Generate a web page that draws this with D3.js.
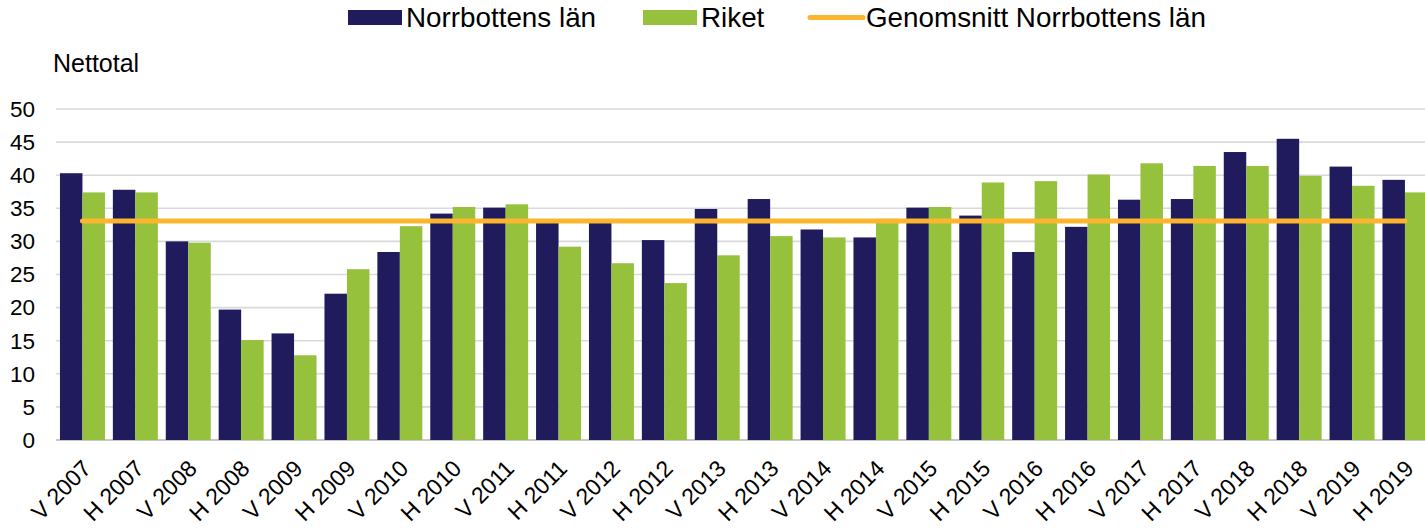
<!DOCTYPE html>
<html>
<head>
<meta charset="utf-8">
<script src="https://cdn.jsdelivr.net/npm/d3@7/dist/d3.min.js"></script>
<style>
  html, body { margin: 0; padding: 0; background: #fff; }
  svg { display: block; font-family: "Liberation Sans", Arial, sans-serif; }
</style>
</head>
<body>
<svg id="chart" width="1425" height="529"></svg>
<script>
const categories = ["V 2007","H 2007","V 2008","H 2008","V 2009","H 2009","V 2010","H 2010","V 2011","H 2011","V 2012","H 2012","V 2013","H 2013","V 2014","H 2014","V 2015","H 2015","V 2016","H 2016","V 2017","H 2017","V 2018","H 2018","V 2019","H 2019"];
const norrbotten = [40.3,37.8,30.0,19.7,16.1,22.1,28.4,34.2,35.1,33.0,32.9,30.2,34.9,36.4,31.8,30.6,35.1,33.9,28.4,32.2,36.3,36.4,43.5,45.5,41.3,39.3];
const riket = [37.4,37.4,29.8,15.1,12.8,25.8,32.3,35.2,35.6,29.2,26.7,23.7,27.9,30.8,30.6,33.4,35.2,38.9,39.1,40.1,41.8,41.4,41.4,39.9,38.4,37.4];
const averageNorrbotten = 33.1;
const yTicks = [0,5,10,15,20,25,30,35,40,45,50];
const seriesNames = ["Norrbottens län","Riket","Genomsnitt Norrbottens län"];
const colors = {dark: "#201b5c", green: "#95c13d", orange: "#fbb52f"};

const svg = d3.select("#chart");

const x = d3.scaleBand().domain(categories).range([56, 1431.4]).paddingInner(0.15).paddingOuter(0.075);
const x1 = d3.scaleBand().domain(["n","r"]).range([0, x.bandwidth()]);
const y = d3.scaleLinear().domain([0, 50]).range([440, 109]);

// gridlines
svg.append("g").selectAll("line").data(yTicks).join("line")
  .attr("x1", 56).attr("x2", 1425)
  .attr("y1", d => y(d)).attr("y2", d => y(d))
  .attr("stroke", d => d === 0 ? "#c8c8c8" : "#d9d9d9")
  .attr("stroke-width", d => d === 0 ? 2 : 1.6);

// y tick labels
svg.append("g").selectAll("text").data(yTicks).join("text")
  .attr("x", 35).attr("y", d => y(d)).attr("dy", "0.35em")
  .attr("text-anchor", "end").attr("font-size", 22.5).attr("fill", "#000")
  .text(d => d);

// y title
svg.append("text").attr("x", 53).attr("y", 72).attr("font-size", 25).attr("fill", "#000").text("Nettotal");

// bars
const groups = svg.append("g").selectAll("g").data(categories).join("g")
  .attr("transform", d => `translate(${x(d)},0)`);
groups.append("rect")
  .attr("x", x1("n")).attr("width", x1.bandwidth())
  .attr("y", (d, i) => y(norrbotten[i])).attr("height", (d, i) => y(0) - y(norrbotten[i]))
  .attr("fill", colors.dark);
groups.append("rect")
  .attr("x", x1("r")).attr("width", x1.bandwidth())
  .attr("y", (d, i) => y(riket[i])).attr("height", (d, i) => y(0) - y(riket[i]))
  .attr("fill", colors.green);

// average line
const line = d3.line().x(d => x(d) + x.bandwidth() / 2).y(() => y(averageNorrbotten));
svg.append("path").datum([categories[0], categories[categories.length - 1]])
  .attr("d", line).attr("fill", "none").attr("stroke", colors.orange)
  .attr("stroke-width", 5).attr("stroke-linecap", "round");

// x labels
svg.append("g").selectAll("text").data(categories).join("text")
  .attr("transform", d => `translate(${x(d) + x.bandwidth() / 2 + 10},${470}) rotate(-45)`)
  .attr("text-anchor", "end").attr("font-size", 23).attr("fill", "#000")
  .text(d => d);

// legend
const legend = svg.append("g");
const legendItems = [
  {name: seriesNames[0], type: "rect", color: colors.dark, x: 348},
  {name: seriesNames[1], type: "rect", color: colors.green, x: 643},
  {name: seriesNames[2], type: "line", color: colors.orange, x: 808}
];
legendItems.forEach(it => {
  if (it.type === "rect") {
    legend.append("rect").attr("x", it.x).attr("y", 10).attr("width", 54).attr("height", 15).attr("fill", it.color);
  } else {
    legend.append("line").attr("x1", it.x + 2).attr("x2", it.x + 55).attr("y1", 17.5).attr("y2", 17.5)
      .attr("stroke", it.color).attr("stroke-width", 5).attr("stroke-linecap", "round");
  }
  legend.append("text").attr("x", it.x + 58).attr("y", 27).attr("font-size", 27.8).attr("fill", "#000").text(it.name);
});
</script>
</body>
</html>
